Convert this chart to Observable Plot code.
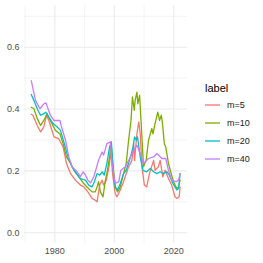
<!DOCTYPE html>
<html><head><meta charset="utf-8">
<script src="https://cdn.jsdelivr.net/npm/d3@7"></script>
<script src="https://cdn.jsdelivr.net/npm/@observablehq/plot@0.6"></script>
<style>
body{margin:0;background:#fff;font-family:"Liberation Sans",Arial,sans-serif;}
#wrap{position:relative;width:263px;height:263px;}
#legend{position:absolute;left:205px;top:80px;color:#000;}
#legend .t{font-size:11px;line-height:16px;height:16px;}
#legend .row{display:flex;align-items:center;height:18px;font-size:9px;color:#222;}
#legend .key{width:15px;height:18px;margin-right:7px;display:block;}
</style></head><body>
<div id="wrap"><div id="legend"></div></div>
<script>
const labels = ["m=5","m=10","m=20","m=40"];
const colors = ["#F8766D","#7CAE00","#00BFC4","#C77CFF"];
const yTicks = [0, 0.2, 0.4, 0.6];
const yMinor = [0.1, 0.3, 0.5, 0.7];
const xTicks = [1980, 2000, 2020];
const xMinor = [1970, 1990, 2010];

const years5 = [1972.07,1972.6,1974.1,1975.2,1976.3,1977.2,1978.0,1979.7,1981.3,1982.8,1983.9,1985.3,1986.9,1988.6,1989.7,1991.1,1992.5,1993.6,1994.2,1995.1,1995.9,1996.4,1997.3,1998.2,1998.9,1999.4,2000.3,2000.9,2002.0,2003.1,2004.0,2004.8,2005.9,2006.5,2006.8,2007.6,2008.2,2008.7,2009.3,2010.1,2010.9,2011.8,2013.2,2013.7,2014.8,2015.4,2016.3,2017.1,2018.2,2019.3,2020.4,2021.0,2021.8,2022.1];
const vals5  = [0.383,0.380,0.347,0.326,0.342,0.380,0.363,0.310,0.304,0.277,0.224,0.191,0.170,0.154,0.148,0.132,0.111,0.105,0.100,0.154,0.170,0.154,0.170,0.213,0.261,0.191,0.127,0.116,0.138,0.165,0.191,0.213,0.234,0.288,0.234,0.320,0.358,0.320,0.213,0.154,0.148,0.191,0.234,0.202,0.213,0.234,0.181,0.202,0.175,0.154,0.116,0.111,0.116,0.148];

const years10 = [1972.07,1972.96,1974.1,1975.2,1976.3,1977.4,1978.5,1980.2,1981.7,1982.8,1983.9,1985.3,1986.4,1988.0,1989.7,1990.8,1992.5,1993.6,1994.2,1994.7,1995.3,1996.2,1997.0,1997.5,1998.4,1998.9,1999.6,2000.3,2001.1,2002.0,2003.1,2004.0,2004.8,2005.6,2006.1,2006.7,2007.0,2007.6,2007.9,2008.5,2008.9,2009.4,2009.8,2010.7,2011.5,2012.6,2013.0,2013.7,2014.6,2015.2,2015.8,2016.2,2016.8,2017.3,2018.2,2018.8,2019.9,2021.0,2021.6,2022.1];
const vals10  = [0.406,0.401,0.369,0.347,0.363,0.385,0.363,0.331,0.320,0.288,0.245,0.224,0.202,0.181,0.159,0.148,0.132,0.132,0.148,0.165,0.132,0.116,0.170,0.191,0.245,0.288,0.213,0.148,0.132,0.148,0.191,0.224,0.299,0.363,0.439,0.396,0.428,0.455,0.417,0.444,0.374,0.288,0.213,0.234,0.299,0.337,0.320,0.353,0.390,0.363,0.380,0.353,0.288,0.277,0.224,0.202,0.165,0.143,0.148,0.170];

const years20 = [1972.07,1972.96,1974.3,1975.2,1976.3,1976.9,1978.0,1979.4,1980.8,1981.9,1983.2,1984.4,1985.8,1987.3,1988.6,1990.3,1991.4,1992.5,1993.3,1994.2,1995.1,1995.9,1996.6,1997.5,1998.4,1999.0,1999.6,2000.3,2001.1,2002.0,2003.1,2004.0,2005.1,2006.3,2006.8,2007.4,2007.8,2008.7,2009.6,2010.9,2012.1,2013.2,2014.3,2015.4,2016.5,2017.7,2018.5,2019.7,2021.0,2021.6,2022.1];
const vals20  = [0.447,0.428,0.396,0.380,0.385,0.390,0.374,0.353,0.342,0.331,0.288,0.245,0.213,0.191,0.175,0.170,0.154,0.148,0.165,0.191,0.186,0.197,0.186,0.224,0.277,0.294,0.202,0.148,0.138,0.159,0.191,0.202,0.234,0.277,0.310,0.299,0.310,0.245,0.202,0.197,0.208,0.197,0.191,0.197,0.191,0.197,0.186,0.159,0.138,0.143,0.191];

const years40 = [1972.07,1973.5,1975.0,1976.3,1977.0,1978.5,1979.7,1981.7,1982.1,1983.6,1984.7,1985.8,1987.5,1988.6,1989.5,1990.3,1991.1,1992.0,1993.1,1994.7,1995.9,1996.4,1997.5,1998.7,1999.2,2000.3,2001.5,2002.2,2003.7,2005.4,2006.5,2007.6,2008.7,2009.8,2011.5,2013.2,2014.3,2016.0,2017.3,2018.2,2019.3,2020.8,2021.6,2022.1];
const vals40  = [0.492,0.428,0.401,0.417,0.420,0.380,0.363,0.363,0.347,0.299,0.245,0.213,0.197,0.181,0.197,0.186,0.170,0.161,0.181,0.234,0.261,0.251,0.288,0.294,0.224,0.159,0.165,0.202,0.213,0.245,0.267,0.283,0.256,0.224,0.240,0.245,0.256,0.240,0.240,0.202,0.170,0.165,0.170,0.191];

const seriesYears = [years5, years10, years20, years40];
const seriesVals = [vals5, vals10, vals20, vals40];
const data = [];
labels.forEach((lab, i) => {
  seriesYears[i].forEach((yr, j) => data.push({label: lab, year: yr, value: seriesVals[i][j]}));
});

const plot = Plot.plot({
  width: 263, height: 263,
  marginLeft: 24, marginRight: 76, marginTop: 5, marginBottom: 20,
  style: {fontFamily: "Liberation Sans, Arial, sans-serif", fontSize: "9px", background: "#fff"},
  x: {domain: [1969.8, 2024.6], label: null},
  y: {domain: [-0.035, 0.735], label: null},
  color: {domain: labels, range: colors},
  marks: [
    Plot.ruleY(yMinor, {stroke: "#ebebeb", strokeWidth: 0.55}),
    Plot.ruleX(xMinor, {stroke: "#ebebeb", strokeWidth: 0.55}),
    Plot.ruleY(yTicks, {stroke: "#ebebeb", strokeWidth: 1.1}),
    Plot.ruleX(xTicks, {stroke: "#ebebeb", strokeWidth: 1.1}),
    Plot.axisX({ticks: xTicks, tickFormat: d => String(d), tickSize: 0, tickPadding: 4, fill: "#4d4d4d", label: null}),
    Plot.axisY({ticks: yTicks, tickFormat: d => d.toFixed(1), tickSize: 0, tickPadding: 5, fill: "#4d4d4d", label: null}),
    Plot.line(data, {x: "year", y: "value", z: "label", stroke: "label", strokeWidth: 1.3})
  ]
});
const wrap = document.getElementById("wrap");
wrap.insertBefore(plot, wrap.firstChild);

const lg = document.getElementById("legend");
lg.innerHTML = '<div class="t">label</div>' + labels.map((l, i) =>
  `<div class="row"><svg class="key" width="15" height="18"><line x1="0" x2="15" y1="9" y2="9" stroke="${colors[i]}" stroke-width="1.3"/></svg>${l}</div>`).join("");
</script>
</body></html>
